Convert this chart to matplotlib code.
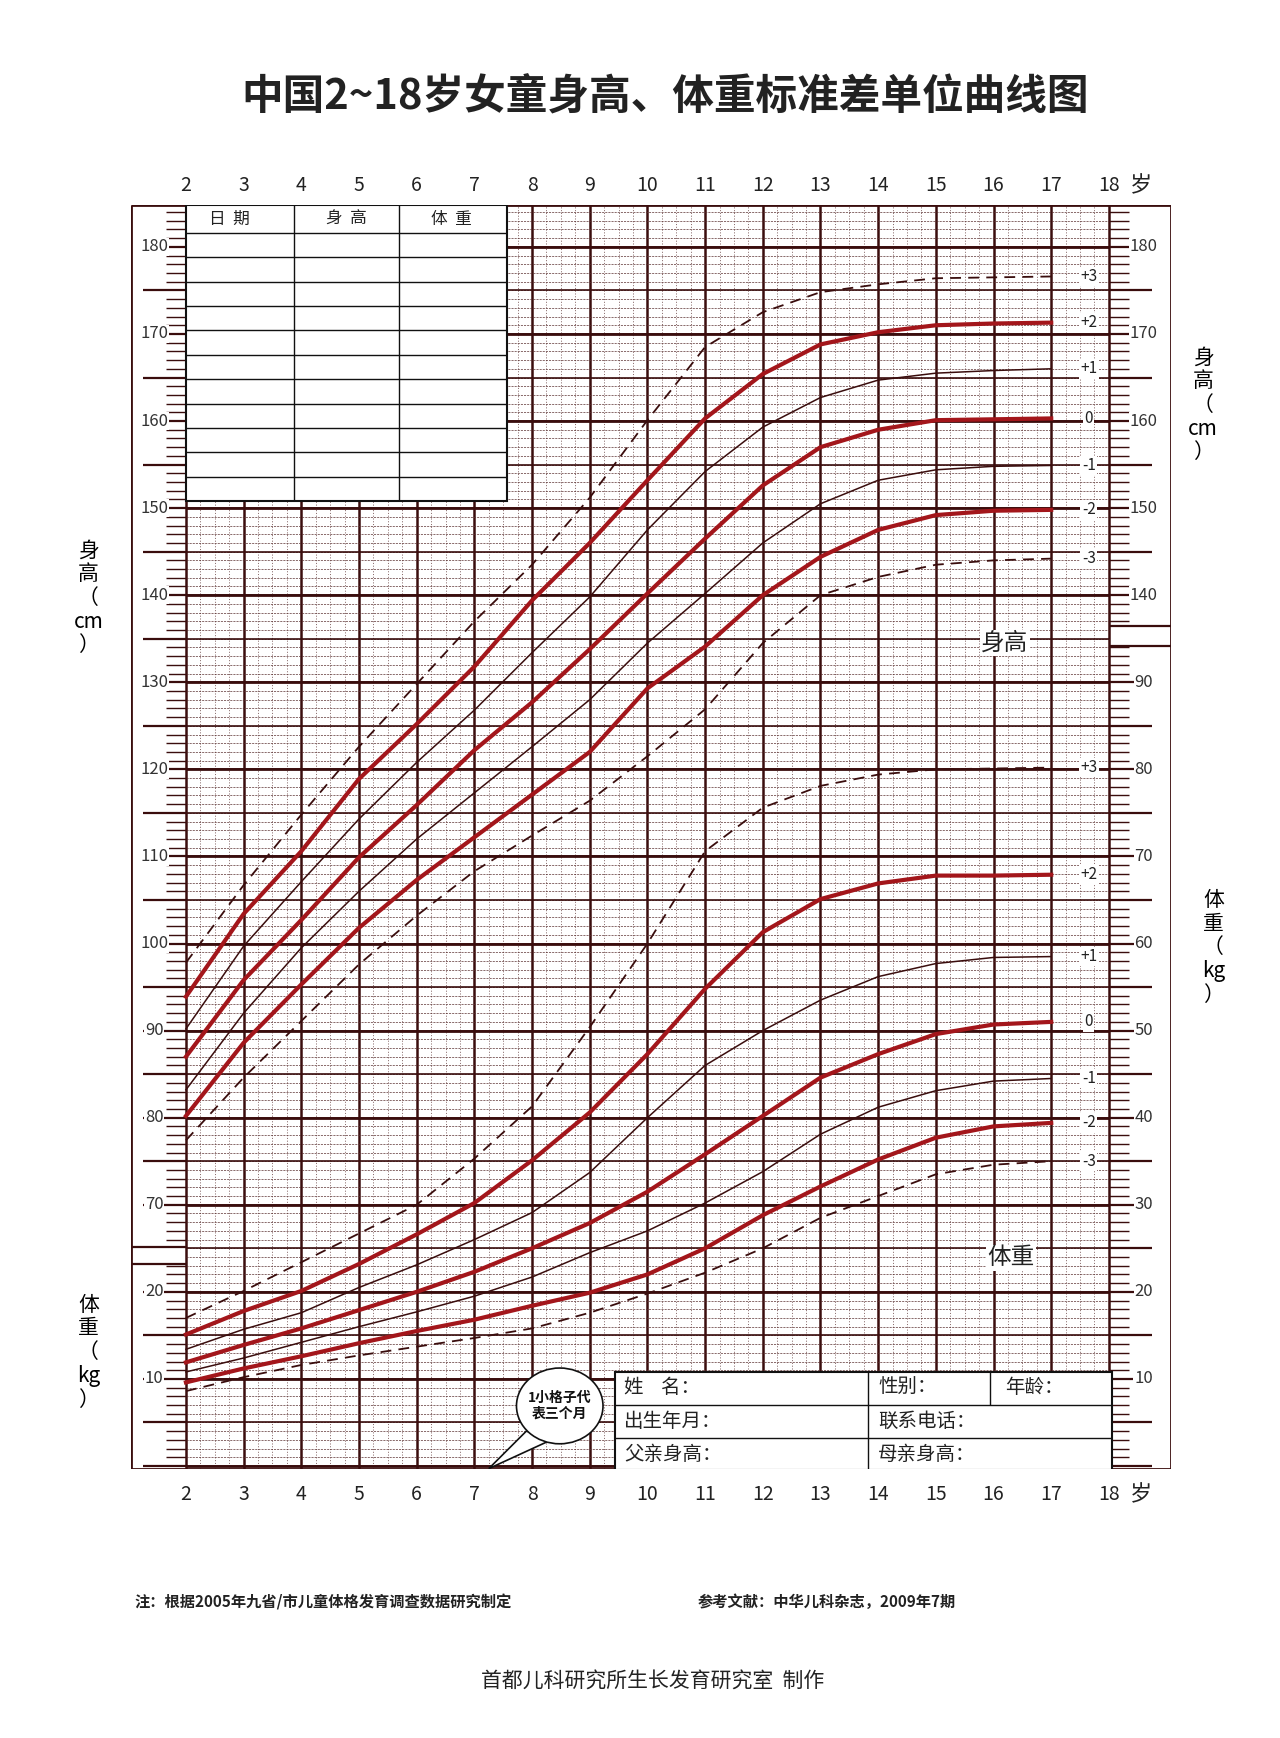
import numpy as np
import matplotlib.pyplot as plt
from matplotlib.patches import Rectangle, Ellipse, Polygon

plt.rcParams['font.family'] = ['Noto Sans CJK SC', 'DejaVu Sans']

# 年龄（岁）
ages = [2, 3, 4, 5, 6, 7, 8, 9, 10, 11, 12, 13, 14, 15, 16, 17]

# 身高 (cm) 各标准差曲线
h_p3 = [97.8, 106.7, 114.8, 122.6, 129.8, 137.0, 143.5, 151.2, 160.1, 168.5, 172.5, 174.8, 175.7, 176.4, 176.5, 176.6]
h_p2 = [93.9, 103.4, 110.6, 118.9, 125.2, 131.8, 139.4, 146.0, 153.2, 160.3, 165.4, 168.8, 170.2, 171.0, 171.2, 171.3]
h_p1 = [90.2, 99.7, 107.1, 114.3, 120.8, 126.8, 133.4, 139.8, 147.5, 154.2, 159.3, 162.7, 164.7, 165.5, 165.8, 166.0]
h_0 = [87.0, 95.8, 102.7, 109.9, 115.9, 122.2, 127.7, 133.8, 140.2, 146.5, 152.6, 157.0, 159.0, 160.1, 160.2, 160.3]
h_m1 = [83.2, 92.0, 99.5, 106.0, 112.0, 117.3, 122.6, 128.0, 134.5, 140.2, 146.0, 150.5, 153.2, 154.4, 154.8, 154.9]
h_m2 = [80.2, 88.6, 95.3, 101.8, 107.3, 112.2, 117.1, 122.0, 129.3, 134.1, 140.0, 144.4, 147.5, 149.2, 149.7, 149.8]
h_m3 = [77.4, 84.6, 91.1, 97.6, 103.2, 108.3, 112.4, 116.4, 121.5, 126.9, 134.5, 140.0, 142.1, 143.5, 144.0, 144.2]

# 体重 (kg)
w_p3 = [17.0, 20.1, 23.4, 26.7, 30.0, 35.3, 41.3, 50.4, 60.0, 70.6, 75.6, 78.1, 79.4, 80.0, 80.1, 80.2]
w_p2 = [15.1, 17.8, 20.1, 23.2, 26.6, 30.2, 35.1, 40.6, 47.3, 54.8, 61.3, 65.1, 66.9, 67.8, 67.8, 67.9]
w_p1 = [13.4, 15.7, 17.6, 20.5, 23.1, 26.0, 29.1, 33.7, 40.0, 46.0, 50.0, 53.5, 56.2, 57.7, 58.4, 58.5]
w_0 = [11.9, 13.9, 15.8, 17.9, 20.0, 22.3, 25.0, 27.9, 31.5, 35.8, 40.2, 44.6, 47.3, 49.6, 50.7, 51.0]
w_m1 = [10.8, 12.4, 14.2, 16.0, 17.7, 19.5, 21.7, 24.5, 27.0, 30.2, 33.8, 38.1, 41.2, 43.1, 44.2, 44.5]
w_m2 = [9.6, 11.2, 12.6, 14.1, 15.5, 16.8, 18.4, 19.9, 22.0, 25.0, 28.8, 32.1, 35.2, 37.7, 39.0, 39.4]
w_m3 = [8.6, 10.2, 11.6, 12.7, 13.7, 14.7, 15.8, 17.6, 19.8, 22.2, 25.0, 28.5, 31.0, 33.5, 34.6, 35.0]

sd_labels = ['+3', '+2', '+1', '0', '-1', '-2', '-3']
W_OFF = 40  # 体重刻度 = 身高刻度 - 40

DARK = '#3a0d0d'
RED = '#a3161b'
MINOR = '#5a3030'

fig = plt.figure(figsize=(12.8, 17.38), dpi=100)
ax = fig.add_axes([0.102, 0.155, 0.813, 0.727])
ax.set_xlim(1.04, 19.08)
ax.set_ylim(39.7, 184.8)
ax.axis('off')

# 网格
x_minor = np.arange(2, 18.01, 0.25)
ax.vlines(x_minor, 39.7, 184.8, color=MINOR, lw=0.5, linestyles=(0, (1.5, 2.5)))
ax.vlines(np.arange(2, 19), 39.7, 184.8, color=DARK, lw=1.8)
y_minor = np.arange(40, 185, 1)
ax.hlines(y_minor, 2, 18, color=MINOR, lw=0.5, linestyles=(0, (3, 1.5)))
ax.hlines(np.arange(40, 185, 5), 2, 18, color=DARK, lw=1.2)
ax.hlines(np.arange(40, 185, 10), 2, 18, color=DARK, lw=2.0)

# 外框
ax.vlines([1.04, 19.08], 39.7, 184.8, color=DARK, lw=2)
ax.hlines([39.7, 184.8], 1.04, 19.08, color=DARK, lw=2)

# 左侧刻度条
for y in np.arange(40, 185, 1):
    if 63.2 < y < 65.2:
        continue
    big = y % 5 == 0
    ax.hlines(y, 2 - (0.75 if big else 0.35), 2, color=DARK, lw=1.6 if big else 1.0)
ax.hlines([65.2, 63.2], 1.04, 2, color=DARK, lw=1.6)
for h in range(70, 181, 10):
    ax.text(1.45, h, str(h), ha='center', va='center', fontsize=12, color='#333',
            bbox=dict(fc='white', ec='none', pad=0.5))
for w in [10, 20]:
    ax.text(1.45, w + W_OFF, str(w), ha='center', va='center', fontsize=12, color='#333',
            bbox=dict(fc='white', ec='none', pad=0.5))

# 右侧刻度条
for y in np.arange(40, 185, 1):
    if 134.2 < y < 136.5:
        continue
    big = y % 5 == 0
    ax.hlines(y, 18, 18 + (0.75 if big else 0.35), color=DARK, lw=1.6 if big else 1.0)
ax.hlines([136.5, 134.2], 18, 19.08, color=DARK, lw=1.6)
for h in range(140, 181, 10):
    ax.text(18.6, h, str(h), ha='center', va='center', fontsize=12, color='#333',
            bbox=dict(fc='white', ec='none', pad=0.5))
for w in range(10, 91, 10):
    ax.text(18.6, w + W_OFF, str(w), ha='center', va='center', fontsize=12, color='#333',
            bbox=dict(fc='white', ec='none', pad=0.5))

# 曲线
def draw_set(series, offset, label_x):
    styles = [('--', 1.3, DARK), ('-', 3.0, RED), ('-', 1.1, DARK), ('-', 3.0, RED),
              ('-', 1.1, DARK), ('-', 3.0, RED), ('--', 1.3, DARK)]
    for s, lab, (ls, lw, c) in zip(series, sd_labels, styles):
        vals = np.array(s) + offset
        ax.plot(ages, vals, ls=ls, lw=lw, color=c, dashes=(6, 4) if ls == '--' else (None, None),
                solid_joinstyle='round', zorder=5)
        ax.text(label_x, vals[-1], lab, ha='center', va='center', fontsize=11, color='#222',
                zorder=6, bbox=dict(fc='white', ec='none', pad=1))

draw_set([h_p3, h_p2, h_p1, h_0, h_m1, h_m2, h_m3], 0, 17.65)
draw_set([w_p3, w_p2, w_p1, w_0, w_m1, w_m2, w_m3], W_OFF, 17.65)

ax.text(16.2, 134.5, '身高', ha='center', va='center', fontsize=17, color='#222', zorder=6,
        bbox=dict(fc='white', ec='none', pad=1))
ax.text(16.3, 63.9, '体重', ha='center', va='center', fontsize=17, color='#222', zorder=6,
        bbox=dict(fc='white', ec='none', pad=1))

# 年龄刻度
for a in range(2, 19):
    ax.text(a, 187.0, str(a), ha='center', va='center', fontsize=14, color='#222', clip_on=False)
    ax.text(a, 36.7, str(a), ha='center', va='center', fontsize=14, color='#222', clip_on=False)
ax.text(18.55, 187.0, '岁', ha='center', va='center', fontsize=16, color='#222', clip_on=False)
ax.text(18.55, 36.7, '岁', ha='center', va='center', fontsize=16, color='#222', clip_on=False)

# 左上记录表
ax.add_patch(Rectangle((2, 150.8), 5.56, 34.0, fc='white', ec='#111', lw=1.5, zorder=7))
for yl in np.linspace(181.6, 150.8, 12)[:-1]:
    ax.hlines(yl, 2, 7.56, color='#111', lw=1.0, zorder=8)
ax.vlines([3.87, 5.69], 150.8, 184.8, color='#111', lw=1.0, zorder=8)
for xt, t in [(2.75, '日  期'), (4.78, '身  高'), (6.6, '体  重')]:
    ax.text(xt, 183.2, t, ha='center', va='center', fontsize=12, color='#222', zorder=9)

# 右下信息框
ax.add_patch(Rectangle((9.44, 39.5), 8.62, 11.3, fc='white', ec='#111', lw=1.5, zorder=7))
ax.hlines([47.0, 43.2], 9.44, 18.06, color='#111', lw=1.0, zorder=8)
ax.vlines(13.83, 39.5, 50.8, color='#111', lw=1.0, zorder=8)
ax.vlines(15.94, 47.0, 50.8, color='#111', lw=1.0, zorder=8)
info = [(9.6, 49.0, '姓    名：'), (14.0, 49.0, '性别：'), (16.2, 49.0, '年龄：'),
        (9.6, 45.1, '出生年月：'), (14.0, 45.1, '联系电话：'),
        (9.6, 41.3, '父亲身高：'), (14.0, 41.3, '母亲身高：')]
for xt, yt, t in info:
    ax.text(xt, yt, t, ha='left', va='center', fontsize=14, color='#222', zorder=9)

# 提示气泡
ax.add_patch(Polygon([[7.9, 44.0], [7.25, 39.7], [8.4, 43.2]], closed=True, fc='white',
                     ec='#111', lw=1.2, zorder=7))
ax.add_patch(Ellipse((8.48, 46.9), 1.5, 8.7, fc='white', ec='#111', lw=1.2, zorder=8))
ax.text(8.48, 46.9, '1小格子代\n表三个月', ha='center', va='center', fontsize=10,
        fontweight='bold', color='#111', zorder=9, linespacing=1.2)

# 轴标题
fig.text(0.069, 0.656, '身\n高\n（\ncm\n）', ha='center', va='center', fontsize=15, linespacing=1.1)
fig.text(0.069, 0.222, '体\n重\n（\nkg\n）', ha='center', va='center', fontsize=15, linespacing=1.1)
fig.text(0.940, 0.767, '身\n高\n（\ncm\n）', ha='center', va='center', fontsize=15, linespacing=1.1)
fig.text(0.948, 0.455, '体\n重\n（\nkg\n）', ha='center', va='center', fontsize=15, linespacing=1.1)

fig.text(0.52, 0.944, '中国2~18岁女童身高、体重标准差单位曲线图', ha='center', va='center',
         fontsize=30, fontweight='bold', color='#222')
fig.text(0.105, 0.078, '注：根据2005年九省/市儿童体格发育调查数据研究制定', ha='left', va='center',
         fontsize=11, fontweight='bold', color='#222')
fig.text(0.545, 0.078, '参考文献：中华儿科杂志，2009年7期', ha='left', va='center',
         fontsize=11, fontweight='bold', color='#222')
fig.text(0.51, 0.033, '首都儿科研究所生长发育研究室  制作', ha='center', va='center',
         fontsize=15, color='#222')

fig.savefig('out.png', dpi=100, facecolor='white')
